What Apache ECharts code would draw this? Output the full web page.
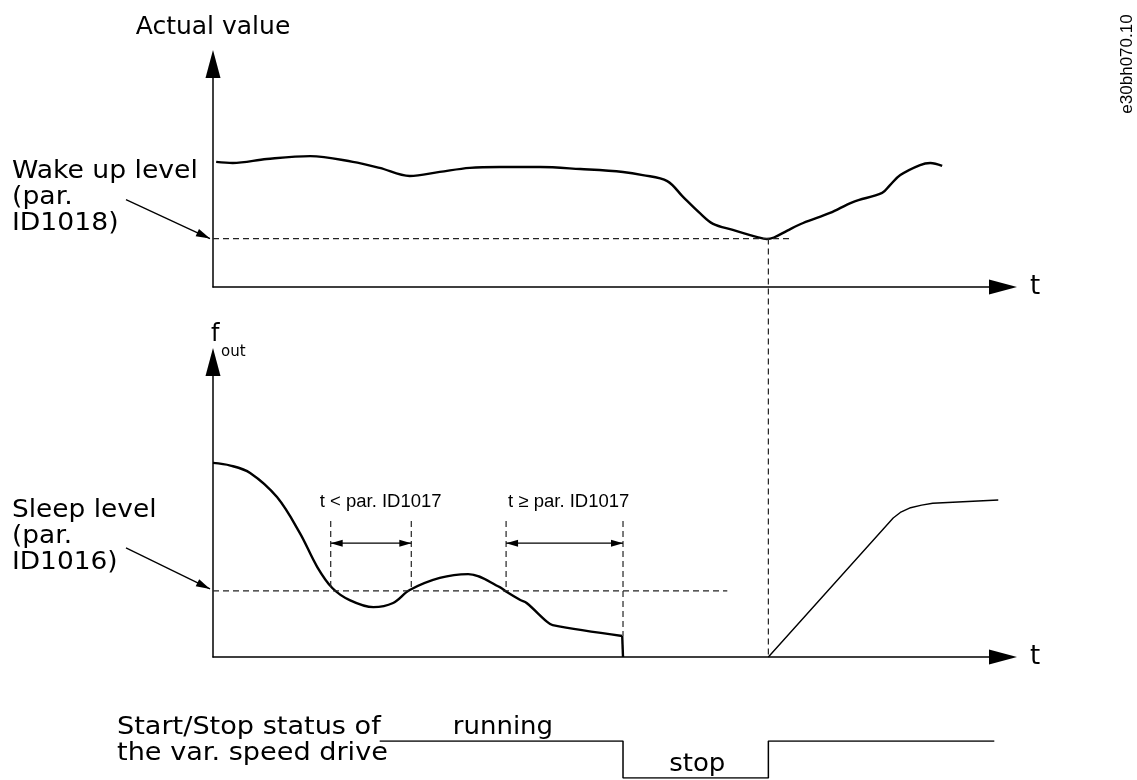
<!DOCTYPE html>
<html><head><meta charset="utf-8">
<script src="https://cdn.jsdelivr.net/npm/echarts@6/dist/echarts.min.js"></script>
<style>html,body{margin:0;padding:0;background:#fff}#c{width:1137px;height:780px}</style>
</head><body><div id="c"></div>
<script>
// ---- data (time units 0..100, value units 0..100) ----
const actualT = [0.4, 2.5, 6.8, 12.3, 17.7, 21.1, 24.9, 28.7, 32.5, 36.3, 41.4, 46.5, 51.9, 54.4, 57.5, 59.5, 61.6, 63.3, 65.8, 68.9, 70.1, 71.0, 72.7, 74.7, 78.1, 81.0, 84.7, 85.7, 87.0, 89.5, 90.8, 92.3];
const actualV = [56.1, 55.6, 57.4, 58.7, 56.1, 53.4, 49.8, 51.6, 53.4, 53.8, 53.8, 52.9, 51.6, 50.2, 47.5, 40.4, 33.2, 28.3, 25.6, 22.4, 21.5, 22.2, 25.3, 28.7, 33.2, 38.1, 42.2, 45.7, 50.2, 54.7, 55.6, 54.3];
const foutT = [0, 2.2, 4.7, 8.1, 11.0, 13.2, 15.1, 17.3, 20.3, 22.8, 24.9, 28.7, 32.3, 36.3, 37.2, 38.9, 39.7, 42.3, 43.0, 51.8];
const foutV = [65.8, 64.9, 62.4, 54.2, 42.0, 30.5, 23.4, 19.3, 16.9, 18.3, 22.7, 26.8, 28.1, 23.7, 22.0, 19.3, 18.3, 11.9, 10.8, 7.1];
const stopDropT = [51.8, 51.9];
const stopDropV = [7.1, 0];
const restartT = [70.3, 86.1, 87.0, 88.3, 89.7, 91.1, 99.4];
const restartV = [0, 47.1, 49.0, 50.6, 51.5, 52.1, 53.2];
const wakeLevel = 21.7, sleepLevel = 22.4;
const wakeDashEnd = 73.0, sleepDashEnd = 65.1;
const stopTime = 51.9, wakeTime = 70.3;
const dimStarts = [14.9, 37.1], dimEnds = [25.1, 51.9];
const dimLabels = ['t < par. ID1017', 't \u2265 par. ID1017'];
const dimTop = 46.1, dimArrowV = 38.6, dim2Bottom = 7.1;
const statusT = [21.1, stopTime, stopTime, wakeTime, wakeTime, 98.9];
const statusV = [1, 1, 0, 0, 1, 1];
const statusLabels = ['running', 'stop'];
const statusLabelT = [36.7, 61.3];
const statusLabelV = [1, 0];

const chart = echarts.init(document.getElementById('c'), null, {renderer: 'canvas'});
const FONT = 'DejaVu Sans';
const dash = {color: '#222', width: 1.2, type: [6, 4]};
function ax(gridIndex, extra) {
  return Object.assign({
    type: 'value', gridIndex, min: 0, max: 100,
    axisTick: {show: false}, axisLabel: {show: false}, splitLine: {show: false},
    axisLine: {show: true, symbol: ['none', 'triangle'], symbolSize: [15, 28], lineStyle: {color: '#000', width: 1.5}}
  }, extra || {});
}
const tName = {name: 't', nameLocation: 'end', nameGap: 27, nameTextStyle: {fontFamily: FONT, fontSize: 26, color: '#000'}};
const zip = (a, b) => a.map((v, i) => [v, b[i]]);
const solid = w => ({color: '#000', width: w});
const series = [
  {type: 'line', xAxisIndex: 0, yAxisIndex: 0, data: zip(actualT, actualV), smooth: 0.35, symbol: 'none', lineStyle: solid(2.4)},
  {type: 'line', xAxisIndex: 0, yAxisIndex: 0, data: [[0, wakeLevel], [wakeDashEnd, wakeLevel]], symbol: 'none', lineStyle: dash},
  {type: 'line', xAxisIndex: 1, yAxisIndex: 1, data: zip(foutT, foutV), smooth: 0.35, symbol: 'none', lineStyle: solid(2.4)},
  {type: 'line', xAxisIndex: 1, yAxisIndex: 1, data: zip(stopDropT, stopDropV), symbol: 'none', lineStyle: solid(2.4)},
  {type: 'line', xAxisIndex: 1, yAxisIndex: 1, data: zip(restartT, restartV), symbol: 'none', lineStyle: solid(1.4)},
  {type: 'line', xAxisIndex: 1, yAxisIndex: 1, data: [[0, sleepLevel], [sleepDashEnd, sleepLevel]], symbol: 'none', lineStyle: dash},
  {type: 'line', xAxisIndex: 2, yAxisIndex: 2, data: zip(statusT, statusV), symbol: 'none', lineStyle: solid(1.5)}
];
// dimension dashed verticals
dimStarts.forEach((t, i) => {
  series.push({type: 'line', xAxisIndex: 1, yAxisIndex: 1, data: [[t, dimTop], [t, sleepLevel]], symbol: 'none', lineStyle: dash});
  const e = dimEnds[i];
  series.push({type: 'line', xAxisIndex: 1, yAxisIndex: 1, data: [[e, dimTop], [e, i === 1 ? dim2Bottom : sleepLevel]], symbol: 'none', lineStyle: dash});
});

chart.setOption({
  animation: false,
  backgroundColor: '#fff',
  grid: [
    {left: 213, right: 134, top: 64, height: 223},
    {left: 213, right: 134, top: 362, height: 295},
    {left: 213, right: 134, top: 741, height: 37}
  ],
  xAxis: [ax(0, tName), ax(1, tName), ax(2, {show: false})],
  yAxis: [
    ax(0, {name: 'Actual value', nameLocation: 'end', nameGap: 24, nameTextStyle: {fontFamily: FONT, fontSize: 25, color: '#000'}}),
    ax(1),
    ax(2, {show: false, min: 0, max: 1})
  ],
  series
});

// ---- annotations computed from the axes ----
const P = (g, v) => chart.convertToPixel({gridIndex: g}, v);
const els = [];
function arrowHead(p0, p1, len, wid) {
  const dx = p1[0] - p0[0], dy = p1[1] - p0[1], L = Math.hypot(dx, dy);
  const ux = dx / L, uy = dy / L, nx = -uy, ny = ux;
  const bx = p1[0] - ux * len, by = p1[1] - uy * len;
  return {type: 'polygon', shape: {points: [p1, [bx + nx * wid / 2, by + ny * wid / 2], [bx - nx * wid / 2, by - ny * wid / 2]]}, style: {fill: '#000'}, z: 10};
}
function line(p0, p1, style) {
  return {type: 'line', shape: {x1: p0[0], y1: p0[1], x2: p1[0], y2: p1[1]}, style: Object.assign({stroke: '#000', lineWidth: 1.3}, style || {}), z: 10};
}
// vertical wake-up dashed line spanning both plots
const wTop = P(0, [wakeTime, wakeLevel]), wBot = P(1, [wakeTime, 0]);
els.push(line(wTop, wBot, {stroke: '#222', lineWidth: 1.2, lineDash: [6, 4]}));
// dimension arrows
dimStarts.forEach((t, i) => {
  const a = P(1, [t, dimArrowV]), b = P(1, [dimEnds[i], dimArrowV]);
  els.push(line(a, b, {lineWidth: 1.3}));
  els.push(arrowHead(b, a, 12, 7));
  els.push(arrowHead(a, b, 12, 7));
  const lx = i === 0 ? a[0] - 11 : a[0] + 2;
  els.push({type: 'text', x: lx, y: P(1, [t, dimTop])[1] - 19, style: {text: dimLabels[i], fontFamily: 'Liberation Sans', fontSize: 18.5, fill: '#000', align: 'left', verticalAlign: 'middle'}});
});
// leader arrows
const wTip = P(0, [0, wakeLevel]); wTip[0] -= 3;
els.push(line([wTip[0] - 84, wTip[1] - 39], wTip, {lineWidth: 1.3}));
els.push(arrowHead([wTip[0] - 84, wTip[1] - 39], wTip, 14, 8));
const sTip = P(1, [0, sleepLevel]); sTip[0] -= 3; sTip[1] -= 2;
els.push(line([sTip[0] - 84, sTip[1] - 41], sTip, {lineWidth: 1.3}));
els.push(arrowHead([sTip[0] - 84, sTip[1] - 41], sTip, 14, 8));
// texts
const txt = (x, y, s, sx, extra) => ({type: 'text', x, y, scaleX: sx, style: Object.assign({text: s, fontFamily: FONT, fontSize: 24, lineHeight: 26, fill: '#000', align: 'left', verticalAlign: 'top'}, extra || {})});
els.push(txt(12, 159, 'Wake up level\n(par.\nID1018)', 1.11));
els.push(txt(12, 498, 'Sleep level\n(par.\nID1016)', 1.1));
els.push(txt(117, 715, 'Start/Stop status of\nthe var. speed drive', 1.13));
// status labels, anchored to the status line
statusLabels.forEach((s, i) => {
  const p = P(2, [statusLabelT[i], statusLabelV[i]]);
  els.push({type: 'text', x: p[0], y: p[1] - 1, scaleX: 1.04, style: {text: s, fontFamily: FONT, fontSize: 25, fill: '#000', align: 'center', verticalAlign: 'bottom'}});
});
const yTop = P(1, [0, 100]);
els.push({type: 'text', x: yTop[0] - 2, y: yTop[1] - 27, style: {text: 'f', fontFamily: FONT, fontSize: 24, fill: '#000', align: 'left', verticalAlign: 'middle'}});
els.push({type: 'text', x: yTop[0] + 8, y: yTop[1] - 10, style: {text: 'out', fontFamily: FONT, fontSize: 15, fill: '#000', align: 'left', verticalAlign: 'middle'}});
els.push({type: 'text', x: 1127, y: 64, rotation: Math.PI / 2, style: {text: 'e30bh070.10', fontFamily: 'Liberation Sans', fontSize: 17, fill: '#000', align: 'center', verticalAlign: 'middle'}});
chart.setOption({graphic: {elements: els}});
</script>
</body></html>
